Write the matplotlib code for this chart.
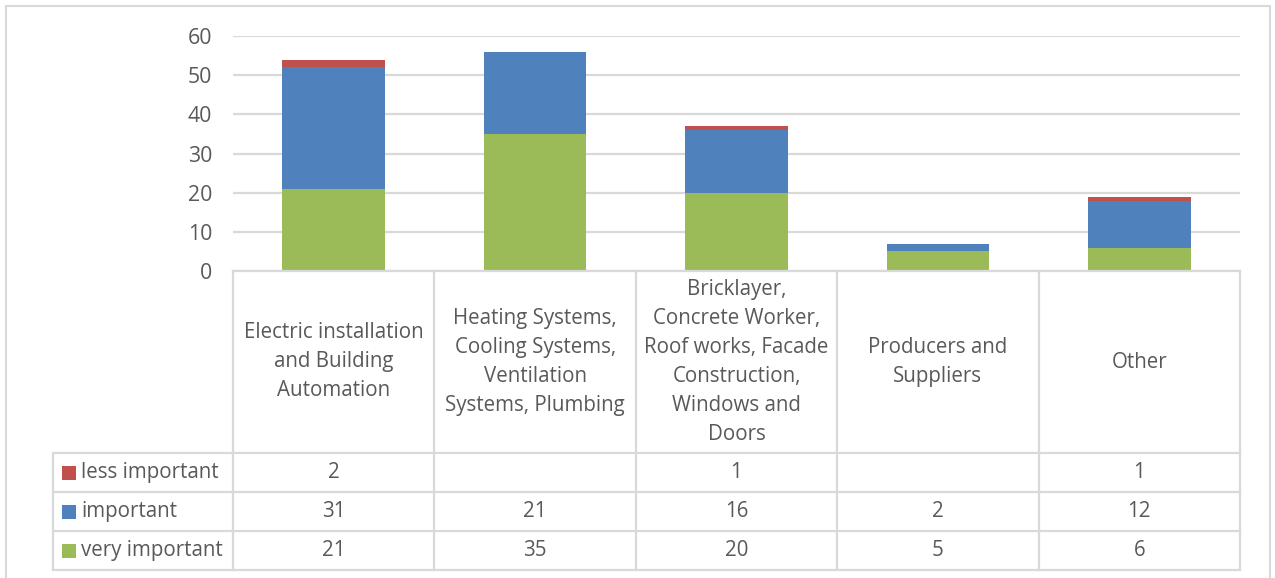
import matplotlib.pyplot as plt
from matplotlib.patches import Rectangle
from matplotlib.lines import Line2D

categories = [
    "Electric installation\nand Building\nAutomation",
    "Heating Systems,\nCooling Systems,\nVentilation\nSystems, Plumbing",
    "Bricklayer,\nConcrete Worker,\nRoof works, Facade\nConstruction,\nWindows and\nDoors",
    "Producers and\nSuppliers",
    "Other",
]
very_important = [21, 35, 20, 5, 6]
important = [31, 21, 16, 2, 12]
less_important = [2, 0, 1, 0, 1]

series_names = ["less important", "important", "very important"]
colors = {"very important": "#9BBB59", "important": "#4F81BD", "less important": "#C0504D"}
y_ticks = [0, 10, 20, 30, 40, 50, 60]

TEXT = "#595959"
GRID = "#D9D9D9"
W, H = 1275, 578
FS = 14.8
plt.rcParams["font.family"] = ["Open Sans", "DejaVu Sans"]

fig = plt.figure(figsize=(W / 100, H / 100), dpi=100)


def fx(px):
    return px / W


def fy(py):
    return 1 - py / H


# pixel layout
plot_l, plot_r = 233, 1240
plot_t, plot_b = 36, 271
legend_l = 53
row_edges = [271, 453, 492, 531, 570]

ax = fig.add_axes([fx(plot_l), fy(plot_b), fx(plot_r - plot_l), (plot_b - plot_t) / H])
n = len(categories)
x = list(range(n))
ax.bar(x, very_important, width=0.51, color=colors["very important"], zorder=3)
ax.bar(x, important, width=0.51, bottom=very_important, color=colors["important"], zorder=3)
bottom2 = [a + b for a, b in zip(very_important, important)]
ax.bar(x, less_important, width=0.51, bottom=bottom2, color=colors["less important"], zorder=3)
ax.set_xlim(-0.5, n - 0.5)
ax.set_ylim(0, 60)
ax.set_yticks(y_ticks)
ax.yaxis.grid(True, color=GRID, linewidth=1.6)
ax.set_xticks([])
for s in ax.spines.values():
    s.set_visible(False)
ax.tick_params(axis="y", length=0, labelsize=FS + 0.5, labelcolor=TEXT, pad=15)

# outer chart border
fig.add_artist(Rectangle((fx(6), fy(590)), fx(1270 - 6), (590 - 6) / H, transform=fig.transFigure,
                         fill=False, edgecolor=GRID, linewidth=1.5))

# data table grid
col_w = (plot_r - plot_l) / n
col_edges = [plot_l + i * col_w for i in range(n + 1)]


def hline(y, x0, x1):
    fig.add_artist(Line2D([fx(x0), fx(x1)], [fy(y), fy(y)], color=GRID, linewidth=1.6))


def vline(xp, y0, y1):
    fig.add_artist(Line2D([fx(xp), fx(xp)], [fy(y0), fy(y1)], color=GRID, linewidth=1.6))


hline(row_edges[0], plot_l, plot_r)
for y in row_edges[1:]:
    hline(y, legend_l, plot_r)
vline(legend_l, row_edges[1], row_edges[-1])
for xp in col_edges:
    vline(xp, row_edges[0], row_edges[-1])

# category header
for i, cat in enumerate(categories):
    cx = (col_edges[i] + col_edges[i + 1]) / 2
    cy = (row_edges[0] + row_edges[1]) / 2
    fig.text(fx(cx), fy(cy), cat, ha="center", va="center", fontsize=FS, color=TEXT,
             linespacing=1.5)

# legend rows with values
table = {"less important": less_important, "important": important, "very important": very_important}
for r, name in enumerate(series_names):
    y0, y1 = row_edges[r + 1], row_edges[r + 2]
    cy = (y0 + y1) / 2
    fig.add_artist(Rectangle((fx(62), fy(cy + 7)), fx(14), 14 / H, transform=fig.transFigure,
                             facecolor=colors[name], edgecolor="none"))
    fig.text(fx(81), fy(cy), name, ha="left", va="center", fontsize=FS, color=TEXT)
    for i, v in enumerate(table[name]):
        if v == 0:
            continue
        cx = (col_edges[i] + col_edges[i + 1]) / 2
        fig.text(fx(cx), fy(cy), str(v), ha="center", va="center", fontsize=FS, color=TEXT)

fig.savefig("out.png", dpi=100)
